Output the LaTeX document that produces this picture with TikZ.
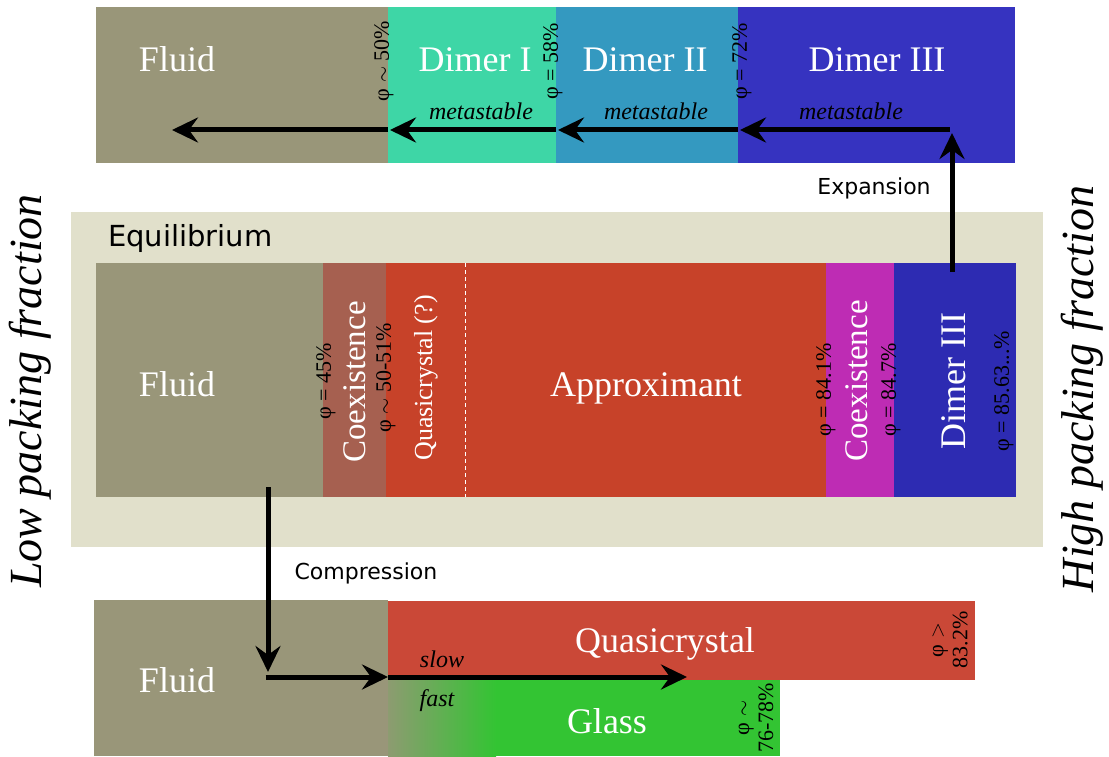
\documentclass[tikz,border=0pt]{standalone}
\usepackage{fontspec}
\setmainfont{Liberation Serif}
\newfontfamily\labsans{DejaVu Sans}
\usetikzlibrary{arrows.meta}
\definecolor{fluidc}{RGB}{153,150,121}
\definecolor{dimAc}{RGB}{62,214,166}
\definecolor{dimBc}{RGB}{52,153,192}
\definecolor{dimCc}{RGB}{54,51,192}
\definecolor{eqbg}{RGB}{225,224,203}
\definecolor{coexAc}{RGB}{166,96,80}
\definecolor{redc}{RGB}{199,66,41}
\definecolor{coexBc}{RGB}{190,44,180}
\definecolor{edimc}{RGB}{45,43,178}
\definecolor{bquasic}{RGB}{202,72,55}
\definecolor{glassc}{RGB}{51,196,51}
\begin{document}
\begin{tikzpicture}[x=1pt,y=-1pt,
 blk/.style={draw=none,inner sep=0pt,outer sep=0pt,anchor=north west},
 big/.style={inner sep=0pt,text=white,font=\fontsize{36}{40}\selectfont},
 coex/.style={inner sep=0pt,text=white,font=\fontsize{33}{36}\selectfont,rotate=90},
 quasq/.style={inner sep=0pt,text=white,font=\fontsize{26}{30}\selectfont,rotate=90},
 phil/.style={inner sep=0pt,text=black,font=\fontsize{22}{24}\selectfont,rotate=90,align=center},
 meta/.style={inner sep=0pt,text=black,font=\itshape\fontsize{24}{28}\selectfont},
 sanslab/.style={inner sep=0pt,text=black,font=\labsans\fontsize{22}{26}\selectfont},
 side/.style={inner sep=0pt,text=black,font=\itshape\fontsize{46}{50}\selectfont,rotate=90},
 arr/.style={line width=5pt,-{Stealth[length=26pt,width=25pt,inset=9pt]}},
]
\useasboundingbox (0,0) rectangle (1109,757);
\fill[white] (0,0) rectangle (1109,757);

% ---------- top row (metastable) ----------
\node[blk,fill=fluidc,minimum width=292pt,minimum height=156pt] (tfluid) at (96,7) {};
\node[blk,fill=dimAc,minimum width=168pt,minimum height=156pt] (tdimA) at (388,7) {};
\node[blk,fill=dimBc,minimum width=182pt,minimum height=156pt] (tdimB) at (556,7) {};
\node[blk,fill=dimCc,minimum width=277pt,minimum height=156pt] (tdimC) at (738,7) {};
\node[big,anchor=base] (tfluidT) at (177,72) {Fluid};
\node[big,anchor=base] (tdimAT) at (475,72) {Dimer I};
\node[big,anchor=base] (tdimBT) at (645,72) {Dimer II};
\node[big,anchor=base] (tdimCT) at (877,72) {Dimer III};
\node[phil] (p50) at (384,61) {φ $\sim$ 50\%};
\node[phil] (p58) at (553,61) {φ = 58\%};
\node[phil] (p72) at (742,61) {φ = 72\%};
\node[meta,anchor=base] (mA) at (481,120) {metastable};
\node[meta,anchor=base] (mB) at (656,120) {metastable};
\node[meta,anchor=base] (mC) at (851,120) {metastable};

% ---------- equilibrium ----------
\node[blk,fill=eqbg,minimum width=972pt,minimum height=335pt] (eqbox) at (71,212) {};
\node[inner sep=0pt,anchor=west,font=\labsans\fontsize{29}{32}\selectfont] (eqT) at (108,238) {Equilibrium};
\node[blk,fill=fluidc,minimum width=227pt,minimum height=234pt] (efluid) at (96,263) {};
\node[blk,fill=coexAc,minimum width=63pt,minimum height=234pt] (ecoexA) at (323,263) {};
\node[blk,fill=redc,minimum width=79pt,minimum height=234pt] (equasi) at (386,263) {};
\node[blk,fill=redc,minimum width=361pt,minimum height=234pt] (eappr) at (465,263) {};
\node[blk,fill=coexBc,minimum width=68pt,minimum height=234pt] (ecoexB) at (826,263) {};
\node[blk,fill=edimc,minimum width=122pt,minimum height=234pt] (edim) at (894,263) {};
\draw[white,line width=1pt,dash pattern=on 4pt off 3pt] (equasi.north east) -- (equasi.south east);
\node[big,anchor=base] (efluidT) at (177,396) {Fluid};
\node[big,anchor=base] (eapprT) at (646,396) {Approximant};
\node[coex] (ecoexAT) at (355,382) {Coexistence};
\node[coex] (ecoexBT) at (857,381) {Coexistence};
\node[quasq] (equasiT) at (426,378) {Quasicrystal (?)};
\node[coex,font=\fontsize{36}{40}\selectfont] (edimT) at (954,381) {Dimer III};
\node[phil] (p45) at (326,381) {φ = 45\%};
\node[phil] (p50b) at (386,378) {φ $\sim$ 50-51\%};
\node[phil] (p841) at (826,390) {φ = 84.1\%};
\node[phil] (p847) at (891,390) {φ = 84.7\%};
\node[phil] (p8563) at (1004,391) {φ = 85.63...\%};

% ---------- bottom row ----------
\node[blk,fill=fluidc,minimum width=294pt,minimum height=156pt] (bfluid) at (94,600) {};
\node[blk,fill=bquasic,minimum width=587pt,minimum height=79pt] (bquasi) at (388,601) {};
\node[blk,fill=glassc,minimum width=392pt,minimum height=76pt] (bglass) at (388,680) {};
\shade[left color=fluidc!88!glassc,right color=glassc] (388,680) rectangle (496,756);
\node[big,anchor=base] (bfluidT) at (177,692) {Fluid};
\node[big,anchor=base] (bquasiT) at (665,652) {Quasicrystal};
\node[big,anchor=base] (bglassT) at (607,733) {Glass};
\node[meta,anchor=base] (slowT) at (442,667) {slow};
\node[meta,anchor=base] (fastT) at (437,706) {fast};
\node[phil] (p832) at (950,640) {φ $>$\\83.2\%};
\node[phil] (p7678) at (756,718) {φ $\sim$\\76-78\%};

% ---------- side labels ----------
\node[side] (lowT) at (30,391) {Low packing fraction};
\node[side] (highT) at (1082,389) {High packing fraction};
\node[sanslab] (expT) at (874,188) {Expansion};
\node[sanslab] (compT) at (366,573) {Compression};

% ---------- arrows ----------
\coordinate (ex0) at (952,272);
\coordinate (ex1) at (952,133);
\coordinate (a0) at (950,130);
\coordinate (a1) at (740,130);
\coordinate (b0) at (738,130);
\coordinate (b1) at (558,130);
\coordinate (c0) at (556,130);
\coordinate (c1) at (390,130);
\coordinate (d0) at (388,130);
\coordinate (d1) at (172,130);
\draw[arr] (ex0) -- (ex1);
\draw[arr] (a0) -- (a1);
\draw[arr] (b0) -- (b1);
\draw[arr] (c0) -- (c1);
\draw[arr] (d0) -- (d1);

\coordinate (k0) at (268,487);
\coordinate (k1) at (268,672);
\coordinate (k2) at (265.5,677);
\coordinate (k3) at (388,677);
\coordinate (k4) at (687,677);
\draw[arr] (k0) -- (k1);
\draw[arr] (k2) -- (k3);
\draw[arr] (k3) -- (k4);
\end{tikzpicture}
\end{document}
